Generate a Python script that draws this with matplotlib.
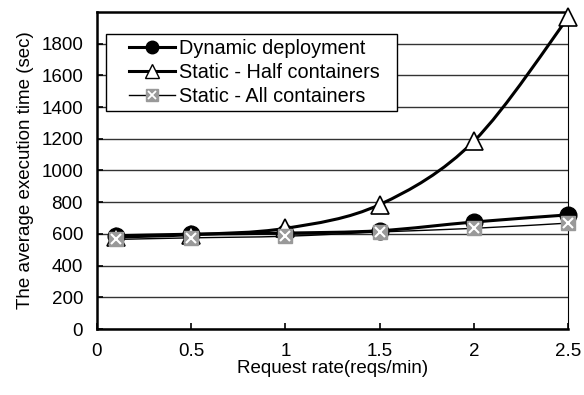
import numpy as np
import matplotlib
matplotlib.use("Agg")
import matplotlib.pyplot as plt
from matplotlib.path import Path
from matplotlib.patches import PathPatch, Rectangle
from matplotlib.legend_handler import HandlerTuple

plt.rcParams['font.family'] = ['Liberation Sans', 'DejaVu Sans']

# Data
rate = [0.1, 0.5, 1.0, 1.5, 2.0, 2.5]
dynamic = [588, 598, 605, 620, 675, 720]
static_half = [580, 595, 635, 785, 1185, 1965]
static_all = [565, 575, 585, 612, 635, 668]
xticks = [0, 0.5, 1, 1.5, 2, 2.5]
yticks = [0, 200, 400, 600, 800, 1000, 1200, 1400, 1600, 1800]


def smooth_path(x, y, t=1/6.):
    # Excel style smoothed line: Catmull-Rom segments as cubic Bezier curves
    x = np.asarray(x, float); y = np.asarray(y, float)
    verts = [(x[0], y[0])]
    codes = [Path.MOVETO]
    n = len(x)
    for i in range(n - 1):
        i0 = max(i - 1, 0); i3 = min(i + 2, n - 1)
        c1 = (x[i] + (x[i+1] - x[i0]) * t, y[i] + (y[i+1] - y[i0]) * t)
        c2 = (x[i+1] - (x[i3] - x[i]) * t, y[i+1] - (y[i3] - y[i]) * t)
        verts += [c1, c2, (x[i+1], y[i+1])]
        codes += [Path.CURVE4] * 3
    return Path(verts, codes)


fig = plt.figure(figsize=(5.84, 3.95), dpi=100)
ax = fig.add_axes([0.166, 0.167, 0.807, 0.803])

for yv, lw in [(dynamic, 2.2), (static_half, 2.2), (static_all, 1.0)]:
    ax.add_patch(PathPatch(smooth_path(rate, yv), fill=False, edgecolor='black', lw=lw, zorder=3))

ax.plot(rate, dynamic, ls='none', marker='o', ms=12, mfc='black', mec='black', zorder=4, clip_on=False)
ax.plot(rate, static_half, ls='none', marker='^', ms=13, mfc='white', mec='black', mew=1.2, zorder=4, clip_on=False)
ax.plot(rate, static_all, ls='none', marker='s', ms=10, mfc='#999999', mec='#999999', zorder=5, clip_on=False)
ax.plot(rate, static_all, ls='none', marker='x', ms=7, mec='white', mew=1.5, zorder=6, clip_on=False)

# legend proxies with lines
l1, = ax.plot([], [], color='black', lw=2.2, marker='o', ms=9, mfc='black')
l2, = ax.plot([], [], color='black', lw=2.2, marker='^', ms=10, mfc='white', mec='black')
l3, = ax.plot([], [], color='black', lw=1.0, marker='s', ms=9, mfc='#999999', mec='#999999')
l3x, = ax.plot([], [], ls='none', marker='x', ms=6, mec='white', mew=1.3)

leg = ax.legend([l1, l2, (l3, l3x)],
                ['Dynamic deployment', 'Static - Half containers', 'Static - All containers'],
                handler_map={tuple: HandlerTuple(ndivide=1, pad=0)},
                loc='upper left', bbox_to_anchor=(0.068, 0.915), fontsize=14.3,
                frameon=False,
                handlelength=2.3, handletextpad=0.2, borderpad=0.0, labelspacing=0.25,
                borderaxespad=0)
leg.set_zorder(10)

ax.set_xlim(0, 2.5)
ax.set_ylim(0, 2000)
ax.set_xticks(xticks)
ax.set_xticklabels(['0', '0.5', '1', '1.5', '2', '2.5'])
ax.set_yticks(yticks)
ax.tick_params(direction='in', length=4, width=1.2, labelsize=13.5, colors='black')
ax.tick_params(axis='x', pad=10)
ax.tick_params(axis='y', pad=10)
ax.grid(axis='y', color='#333333', lw=1.0)
ax.set_axisbelow(True)
for s in ['left', 'bottom', 'top']:
    ax.spines[s].set_linewidth(1.8)
ax.spines['right'].set_linewidth(0.8)

ax.set_xlabel('Request rate(reqs/min)', fontsize=13.5, labelpad=0)
ax.set_ylabel('The average execution time (sec)', fontsize=13.5, labelpad=5)

# draw legend frame with wider side padding than matplotlib allows
fig.canvas.draw()
bb = leg.get_window_extent().transformed(fig.transFigure.inverted())
padl, padr, pady = 23 / 584, 18 / 584, 5 / 395
frame = Rectangle((bb.x0 - padl, bb.y0 - pady), bb.width + padl + padr, bb.height + 2 * pady,
                  transform=fig.transFigure, facecolor='white', edgecolor='black', lw=1.0, zorder=9)
ax.add_patch(frame)
frame.set_clip_on(False)

plt.savefig('out.png', dpi=100)
